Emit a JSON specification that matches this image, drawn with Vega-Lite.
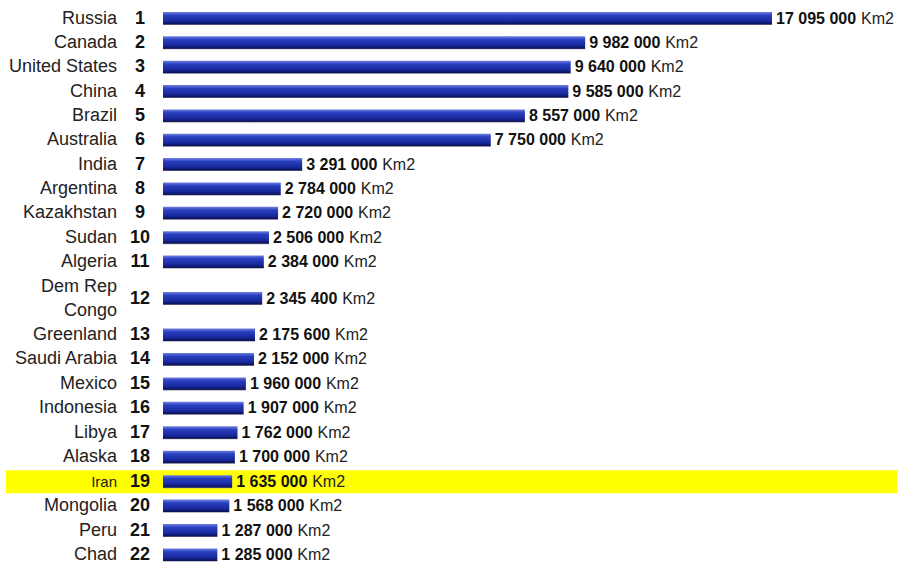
{
  "$schema": "https://vega.github.io/schema/vega-lite/v6.json",
  "width": 891,
  "height": 562,
  "autosize": {"type": "none"},
  "padding": {"left": 6, "top": 6, "right": 4, "bottom": 3},
  "background": "white",
  "config": {
    "view": {"stroke": null},
    "locale": {"number": {"decimal": ".", "thousands": " ", "grouping": [3], "currency": ["", ""]}},
    "text": {"font": "Liberation Sans", "baseline": "middle"}
  },
  "data": {
    "values": [
      {"country": "Russia", "rank": 1, "area": 17095000},
      {"country": "Canada", "rank": 2, "area": 9982000},
      {"country": "United States", "rank": 3, "area": 9640000},
      {"country": "China", "rank": 4, "area": 9585000},
      {"country": "Brazil", "rank": 5, "area": 8557000},
      {"country": "Australia", "rank": 6, "area": 7750000},
      {"country": "India", "rank": 7, "area": 3291000},
      {"country": "Argentina", "rank": 8, "area": 2784000},
      {"country": "Kazakhstan", "rank": 9, "area": 2720000},
      {"country": "Sudan", "rank": 10, "area": 2506000},
      {"country": "Algeria", "rank": 11, "area": 2384000},
      {"country": "Dem Rep\nCongo", "rank": 12, "area": 2345400},
      {"country": "Greenland", "rank": 13, "area": 2175600},
      {"country": "Saudi Arabia", "rank": 14, "area": 2152000},
      {"country": "Mexico", "rank": 15, "area": 1960000},
      {"country": "Indonesia", "rank": 16, "area": 1907000},
      {"country": "Libya", "rank": 17, "area": 1762000},
      {"country": "Alaska", "rank": 18, "area": 1700000},
      {"country": "Iran", "rank": 19, "area": 1635000},
      {"country": "Mongolia", "rank": 20, "area": 1568000},
      {"country": "Peru", "rank": 21, "area": 1287000},
      {"country": "Chad", "rank": 22, "area": 1285000}
    ]
  },
  "encoding": {
    "y": {
      "field": "rank",
      "type": "quantitative",
      "axis": null,
      "scale": {"domain": [1, 11, 13, 22], "range": [12.5, 256, 329, 549], "padding": 0, "nice": false, "zero": false}
    }
  },
  "layer": [
    {
      "transform": [{"filter": "datum.country === 'Iran'"}],
      "mark": {"type": "rule", "color": "#ffff00", "strokeWidth": 23, "strokeCap": "butt"},
      "encoding": {}
    },
    {
      "mark": {
        "type": "bar",
        "orient": "horizontal",
        "size": 13,
        "color": {
          "gradient": "linear",
          "x1": 0, "y1": 0, "x2": 0, "y2": 1,
          "stops": [
            {"offset": 0, "color": "#7080e0"},
            {"offset": 0.25, "color": "#2a40c0"},
            {"offset": 0.7, "color": "#18289c"},
            {"offset": 0.92, "color": "#0a1258"},
            {"offset": 1, "color": "#8a8a9a"}
          ]
        }
      },
      "encoding": {
        "x": {
          "field": "area",
          "type": "quantitative",
          "axis": null,
          "scale": {"domain": [0, 14400000], "range": [157, 766], "clamp": true, "padding": 0, "nice": false, "zero": true}
        }
      }
    },
    {
      "transform": [{"filter": "datum.rank !== 12"}],
      "mark": {"type": "text", "align": "right", "dx": -46, "color": "#222222"},
      "encoding": {
        "x": {"datum": 0, "type": "quantitative"},
        "text": {"field": "country"},
        "size": {"condition": {"test": "datum.country === 'Iran'", "value": 15}, "value": 18}
      }
    },
    {
      "transform": [{"filter": "datum.rank === 12"}],
      "mark": {"type": "text", "align": "right", "dx": -46, "dy": -12, "fontSize": 18, "lineBreak": "\n", "lineHeight": 24, "color": "#222222"},
      "encoding": {
        "x": {"datum": 0, "type": "quantitative"},
        "text": {"field": "country"}
      }
    },
    {
      "mark": {"type": "text", "align": "center", "dx": -23, "fontSize": 18, "fontWeight": "bold", "color": "#111111"},
      "encoding": {
        "x": {"datum": 0, "type": "quantitative"},
        "text": {"field": "rank"}
      }
    },
    {
      "mark": {"type": "text", "align": "left", "dx": 4, "fontSize": 16, "fontWeight": "bold", "color": "#111111"},
      "encoding": {
        "x": {"field": "area", "type": "quantitative"},
        "text": {"field": "area", "format": ",d"}
      }
    },
    {
      "transform": [{"filter": "datum.area < 10000000"}],
      "mark": {"type": "text", "align": "left", "dx": 80, "fontSize": 16, "color": "#222222"},
      "encoding": {
        "x": {"field": "area", "type": "quantitative"},
        "text": {"value": "Km2"}
      }
    },
    {
      "transform": [{"filter": "datum.area >= 10000000"}],
      "mark": {"type": "text", "align": "left", "dx": 89, "fontSize": 16, "color": "#222222"},
      "encoding": {
        "x": {"field": "area", "type": "quantitative"},
        "text": {"value": "Km2"}
      }
    }
  ]
}
